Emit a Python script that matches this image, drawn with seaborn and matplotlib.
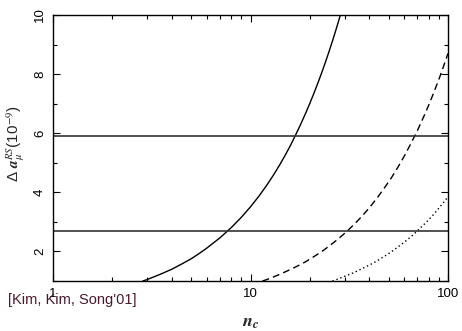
import numpy as np
import pandas as pd
import matplotlib
matplotlib.use("Agg")
import matplotlib.pyplot as plt
import seaborn as sns
from matplotlib.ticker import LogLocator, FixedLocator, NullFormatter, FixedFormatter

# data
solid_n = [2.85, 3, 3.5, 4, 4.5, 5, 5.5, 6, 7, 8, 9, 10, 11, 12, 13, 14, 15, 16, 17, 18,
           19, 20, 21, 22, 23, 24, 25, 26, 27, 28, 28.5]
solid_y = [1.00, 1.05, 1.23, 1.40, 1.58, 1.75, 1.93, 2.11, 2.46, 2.81, 3.16, 3.51, 3.86, 4.21,
           4.56, 4.91, 5.26, 5.61, 5.97, 6.32, 6.67, 7.02, 7.37, 7.72, 8.07, 8.42, 8.77, 9.12,
           9.47, 9.82, 10.0]
dashed_n = [11.5, 12, 13, 14, 15, 17, 19, 21, 23, 25, 28, 31, 34, 37, 40, 44, 48, 52, 56, 60,
            65, 70, 75, 80, 85, 90, 95, 100]
dashed_y = [1.00, 1.04, 1.13, 1.22, 1.31, 1.48, 1.65, 1.83, 2.00, 2.18, 2.44, 2.70, 2.96, 3.22,
            3.48, 3.83, 4.18, 4.52, 4.87, 5.22, 5.66, 6.09, 6.53, 6.96, 7.40, 7.83, 8.27, 8.70]
dotted_n = [26, 28, 30, 33, 36, 40, 44, 48, 52, 56, 60, 65, 70, 75, 80, 85, 90, 95, 100]
dotted_y = [1.00, 1.08, 1.16, 1.27, 1.39, 1.54, 1.69, 1.85, 2.00, 2.16, 2.31, 2.50, 2.70, 2.89,
            3.08, 3.27, 3.47, 3.66, 3.85]
hlines = [5.9, 2.7]
x_ticks = [1, 10, 100]
x_ticklabels = ["1", "10", "100"]
y_ticks = [2, 4, 6, 8, 10]
y_ticklabels = ["2", "4", "6", "8", "10"]
note = "[Kim, Kim, Song'01]"

sns.set_style("ticks")
plt.rcParams['font.family'] = ['Liberation Sans', 'DejaVu Sans']

fig = plt.figure(figsize=(4.62, 3.31), dpi=100)
ax = fig.add_axes([53/462, 1-281/331, (448-53)/462, (281-15)/331])

df = pd.concat([
    pd.DataFrame({"n": solid_n, "y": solid_y, "s": "solid"}),
    pd.DataFrame({"n": dashed_n, "y": dashed_y, "s": "dashed"}),
    pd.DataFrame({"n": dotted_n, "y": dotted_y, "s": "dotted"}),
])
sns.lineplot(data=df[df.s == "solid"], x="n", y="y", ax=ax, color="black", lw=1.0, linestyle="-")
sns.lineplot(data=df[df.s == "dashed"], x="n", y="y", ax=ax, color="black", lw=1.0, linestyle=(0, (5, 3)))
sns.lineplot(data=df[df.s == "dotted"], x="n", y="y", ax=ax, color="black", lw=1.0, linestyle=(0, (1, 2)))
for h in hlines:
    ax.axhline(h, color="#333333", lw=1.2)

ax.set_xscale("log")
ax.set_xlim(1, 100)
ax.set_ylim(1, 10)
ax.xaxis.set_major_locator(FixedLocator(x_ticks))
ax.xaxis.set_major_formatter(FixedFormatter(x_ticklabels))
ax.xaxis.set_minor_locator(LogLocator(base=10, subs=np.arange(2, 10)))
ax.xaxis.set_minor_formatter(NullFormatter())
ax.yaxis.set_major_locator(FixedLocator(y_ticks))
ax.yaxis.set_major_formatter(FixedFormatter(y_ticklabels))
ax.yaxis.set_minor_locator(FixedLocator([1, 3, 5, 7, 9]))
ax.tick_params(which="both", direction="in", top=True, right=True, colors="black", labelsize=9.5, width=0.8)
ax.tick_params(which="major", length=5, pad=5)
ax.tick_params(which="minor", length=3)
for lab in ax.get_yticklabels():
    lab.set_rotation(90)
    lab.set_va("center")
for sp in ax.spines.values():
    sp.set_linewidth(1.0)
    sp.set_color("black")

ax.set_xlabel(r"$\mathbfit{n}_{\mathbfit{c}}$", fontsize=13, labelpad=10, math_fontfamily="stix")
ax.set_ylabel(r"Δ $\mathbfit{a}_{\mu}^{RS}$(10$^{-9}$)", fontsize=11, math_fontfamily="stix")
ax.yaxis.set_label_coords(-0.066, 0.515)
fig.text(8/462, 1-304/331, note, color="#4a1a2a", fontsize=10.5, ha="left", va="baseline")

fig.savefig("out.png", dpi=100)
